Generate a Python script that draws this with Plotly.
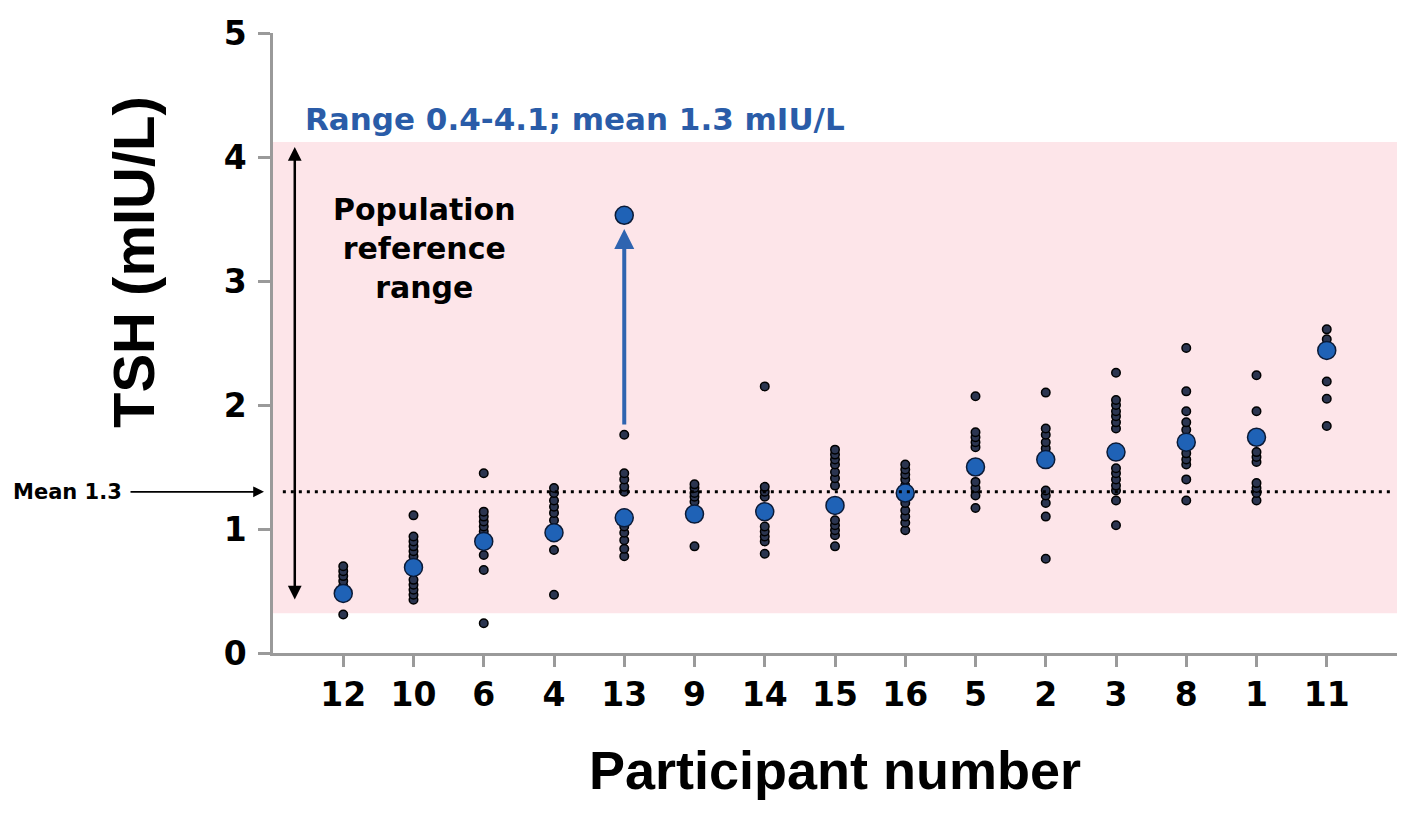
import plotly.graph_objects as go

participants = ["12", "10", "6", "4", "13", "9", "14", "15", "16", "5", "2", "3", "8", "1", "11"]

mean_tsh = [0.48, 0.69, 0.90, 0.97, 1.09, 1.12, 1.14, 1.19, 1.29, 1.50, 1.56, 1.62, 1.70, 1.74, 2.44]

individual_tsh = {
    "12": [0.31, 0.54, 0.58, 0.62, 0.66, 0.70],
    "10": [0.43, 0.47, 0.51, 0.55, 0.59, 0.78, 0.82, 0.86, 0.90, 0.94, 1.11],
    "6": [0.24, 0.67, 0.79, 0.98, 1.02, 1.06, 1.10, 1.14, 1.45],
    "4": [0.47, 0.83, 1.07, 1.13, 1.18, 1.23, 1.29, 1.33],
    "13": [0.78, 0.84, 0.91, 0.97, 1.02, 1.30, 1.34, 1.40, 1.45, 1.76],
    "9": [0.86, 1.22, 1.26, 1.29, 1.33, 1.36],
    "14": [0.80, 0.90, 0.94, 0.98, 1.02, 1.26, 1.30, 1.34, 2.15],
    "15": [0.86, 0.95, 0.99, 1.03, 1.07, 1.35, 1.41, 1.46, 1.52, 1.56, 1.60, 1.64],
    "16": [0.99, 1.05, 1.10, 1.15, 1.21, 1.35, 1.40, 1.44, 1.48, 1.52],
    "5": [1.17, 1.27, 1.33, 1.38, 1.66, 1.70, 1.74, 1.78, 2.07],
    "2": [0.76, 1.10, 1.21, 1.27, 1.31, 1.65, 1.70, 1.76, 1.81, 2.10],
    "3": [1.03, 1.23, 1.31, 1.35, 1.40, 1.45, 1.49, 1.81, 1.86, 1.91, 1.95, 2.00, 2.04, 2.26],
    "8": [1.23, 1.40, 1.52, 1.56, 1.61, 1.80, 1.86, 1.95, 2.11, 2.46],
    "1": [1.23, 1.29, 1.33, 1.37, 1.54, 1.58, 1.62, 1.95, 2.24],
    "11": [1.83, 2.05, 2.19, 2.53, 2.61],
}

outlier_participant = ["13"]
outlier_tsh = [3.53]

ref_low, ref_high = 0.32, 4.12
pop_mean = 1.3
y_ticks = [0, 1, 2, 3, 4, 5]

FONT = "Liberation Sans, Arial, sans-serif"
WIDE = "DejaVu Sans, sans-serif"
BLUE = "#1f62b6"

small_x, small_y = [], []
for p in participants:
    for v in individual_tsh[p]:
        small_x.append(p)
        small_y.append(v)

fig = go.Figure()

fig.add_trace(go.Scatter(
    x=small_x, y=small_y, mode="markers",
    marker=dict(size=8.5, color="#2b3550", line=dict(color="black", width=1.5)),
    showlegend=False, hoverinfo="x+y"))

fig.add_trace(go.Scatter(
    x=participants, y=mean_tsh, mode="markers",
    marker=dict(size=18, color=BLUE, line=dict(color="#0b1a36", width=1.5)),
    showlegend=False))

fig.add_trace(go.Scatter(
    x=outlier_participant, y=outlier_tsh, mode="markers",
    marker=dict(size=18, color=BLUE, line=dict(color="#0b1a36", width=1.5)),
    showlegend=False))

# reference range band
fig.add_shape(type="rect", xref="paper", yref="y", x0=0, x1=1, y0=ref_low, y1=ref_high,
              fillcolor="#fde5e9", line=dict(width=0), layer="below")

# mean dotted line
fig.add_shape(type="line", xref="x", yref="y", x0=-0.86, x1=14.92, y0=pop_mean, y1=pop_mean,
              line=dict(color="black", width=3, dash="3px,5px"))

annotations = []
# double arrow for population reference range
annotations.append(dict(x=-0.69, y=4.08, ax=-0.69, ay=0.42, xref="x", yref="y", axref="x", ayref="y",
                        text="", showarrow=True, arrowhead=2, arrowside="end+start",
                        arrowwidth=2.5, arrowsize=1.1, arrowcolor="black"))
# blue arrow for participant 13
annotations.append(dict(x=4, y=3.42, ax=4, ay=1.83, xref="x", yref="y", axref="x", ayref="y",
                        text="", showarrow=True, arrowhead=2, arrowwidth=4,
                        arrowsize=1.0, arrowcolor="#2f64b0"))
# Mean 1.3 arrow
annotations.append(dict(x=-0.008, y=pop_mean, xref="paper", yref="y", ax=-135, ay=0,
                        text="", showarrow=True, arrowhead=2, arrowwidth=1.8, arrowsize=1.2,
                        arrowcolor="black"))
annotations.append(dict(x=-0.183, y=pop_mean, xref="paper", yref="y", xanchor="center",
                        yanchor="middle", text="Mean 1.3", showarrow=False,
                        font=dict(family=WIDE, size=21, color="black", weight="bold")))
# Range text
annotations.append(dict(x=-0.58, y=4.31, xref="x", yref="y", xanchor="left", yanchor="middle",
                        text="Range 0.4-4.1; mean 1.3 mIU/L", showarrow=False,
                        font=dict(family=WIDE, size=31, color="#2a5ca8", weight="bold")))
# Population reference range
annotations.append(dict(x=1.16, y=3.26, xref="x", yref="y", xanchor="center", yanchor="middle",
                        text="Population<br>reference<br>range", showarrow=False,
                        font=dict(family=WIDE, size=30, color="black", weight="bold")))
# axis titles
annotations.append(dict(x=0.5, y=-0.189, xref="paper", yref="paper", xanchor="center",
                        yanchor="middle", text="Participant number", showarrow=False,
                        font=dict(family=FONT, size=54, color="black", weight="bold")))
annotations.append(dict(x=-0.124, y=0.63, xref="paper", yref="paper", xanchor="center",
                        yanchor="middle", text="TSH (mIU/L)", showarrow=False, textangle=-90,
                        font=dict(family=FONT, size=58, color="black", weight="bold")))

fig.update_layout(
    width=1401, height=828,
    margin=dict(l=273, r=4, t=33, b=175),
    paper_bgcolor="white", plot_bgcolor="white",
    showlegend=False,
    annotations=annotations,
    xaxis=dict(type="category", categoryorder="array", categoryarray=participants,
               range=[-1, 15], showgrid=False, zeroline=False,
               showline=True, linecolor="#9a9a9a", linewidth=2.5,
               ticks="outside", ticklen=11, tickwidth=2.5, tickcolor="#9a9a9a",
               tickfont=dict(family=WIDE, size=33, color="black", weight="bold")),
    yaxis=dict(range=[0, 5], tickvals=y_ticks, showgrid=False, zeroline=False,
               showline=True, linecolor="#9a9a9a", linewidth=2.5,
               ticks="outside", ticklen=12, tickwidth=2.5, tickcolor="#9a9a9a",
               ticklabelstandoff=5,
               tickfont=dict(family=WIDE, size=33, color="black", weight="bold")),
)

fig.write_html("out.html")
